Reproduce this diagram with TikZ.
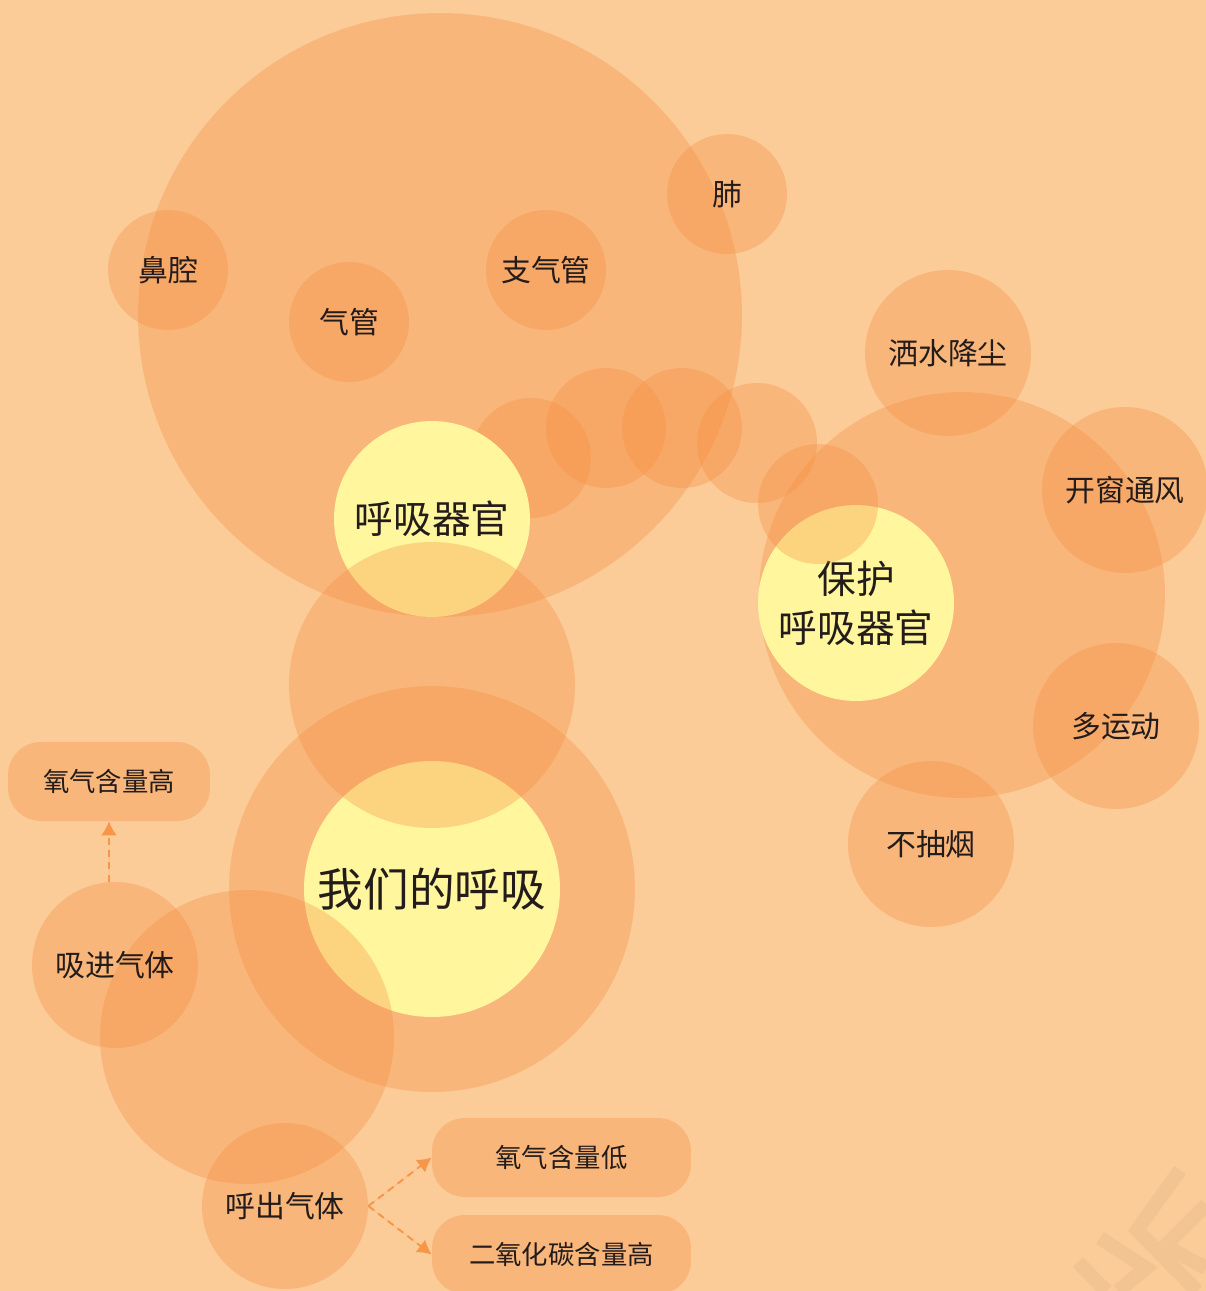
\documentclass[tikz,border=0pt]{standalone}
\usepackage{fontspec}
\newfontfamily\cjk{Noto Sans CJK SC}
\usetikzlibrary{arrows.meta}
\definecolor{paper}{RGB}{251,203,152}
\definecolor{peach}{RGB}{247,140,60}
\definecolor{lemon}{RGB}{255,246,158}
\definecolor{ink}{RGB}{35,28,26}
\definecolor{stamp}{RGB}{241,196,146}
\definecolor{flowc}{RGB}{247,150,72}
\tikzset{bubble/.style={circle,fill=peach,fill opacity=0.32,text opacity=1,text=ink,inner sep=0pt,font=\cjk\fontsize{17}{20}\selectfont}}
\tikzset{core/.style={circle,fill=lemon,text=ink,inner sep=0pt,align=center,font=\cjk\fontsize{22}{28}\selectfont}}
\tikzset{tag/.style={rectangle,rounded corners=0.66cm,fill=peach,fill opacity=0.32,text opacity=1,text=ink,minimum height=1.58cm,minimum width=5.18cm,font=\cjk\fontsize{15}{18}\selectfont}}
\tikzset{flow/.style={-{Latex[length=8pt,width=9pt]},draw=flowc,fill=flowc,line width=1.1pt,dash pattern=on 4pt off 3pt}}

\begin{document}
\begin{tikzpicture}[x=0.02cm,y=-0.02cm]
  \fill[paper] (0,0) rectangle (1206,1291);
  \useasboundingbox (0,0) rectangle (1206,1291);
  \draw[stamp,line width=8pt] (1180,1170) -- (1137,1230) -- (1197,1291);
  \draw[stamp,line width=8pt] (1100,1238) -- (1146,1268) -- (1118,1291);
  \draw[stamp,line width=8pt] (1078,1262) -- (1106,1291);
  \draw[stamp,line width=8pt] (1206,1205) -- (1166,1245) .. controls (1180,1255) and (1195,1262) .. (1206,1268);
  \node[bubble,minimum size=12.08cm] (organs-zone) at (440,315) {};
  \node[bubble,minimum size=2.4cm] (link1) at (531,458) {};
  \node[bubble,minimum size=8.12cm] (us-zone) at (432,889) {};
  \node[bubble,minimum size=8.12cm] (guard-zone) at (962,595) {};
  \node[core,minimum size=3.92cm] (organs) at (432,519) {呼吸器官};
  \node[core,minimum size=3.92cm] (guard) at (856,603) {保护\\呼吸器官};
  \node[core,minimum size=5.12cm,font=\cjk\fontsize{26}{30}\selectfont] (us) at (432,889) {我们的呼吸};
  \node[bubble,minimum size=5.72cm] (bridge) at (432,685) {};
  \node[bubble,minimum size=5.88cm] (air-zone) at (247,1037) {};
  \foreach \x/\y [count=\i from 2] in {606/428,682/428,757/443,818/504}
    \node[bubble,minimum size=2.4cm] (link\i) at (\x,\y) {};
  \node[bubble,minimum size=2.4cm] (nose) at (168,270) {鼻腔};
  \node[bubble,minimum size=2.4cm] (trachea) at (349,322) {气管};
  \node[bubble,minimum size=2.4cm] (bronchi) at (546,270) {支气管};
  \node[bubble,minimum size=2.4cm] (lung) at (727,194) {肺};
  \node[bubble,minimum size=3.32cm] (dust) at (948,353) {洒水降尘};
  \node[bubble,minimum size=3.32cm] (window) at (1125,490) {开窗通风};
  \node[bubble,minimum size=3.32cm] (sport) at (1116,726) {多运动};
  \node[bubble,minimum size=3.32cm] (nosmoke) at (931,844) {不抽烟};
  \node[bubble,minimum size=3.32cm] (inhale) at (115,965) {吸进气体};
  \node[bubble,minimum size=3.32cm] (exhale) at (285,1206) {呼出气体};
  \node[tag,minimum width=4.04cm] (o2high) at (109,781.5) {氧气含量高};
  \node[tag] (o2low) at (561.5,1157.5) {氧气含量低};
  \node[tag] (co2high) at (561.5,1254.5) {二氧化碳含量高};
  \draw[flow] (inhale.north -| o2high.south) -- (o2high.south);
  \draw[flow] (exhale.east) -- (o2low.west);
  \draw[flow] (exhale.east) -- (co2high.west);
\end{tikzpicture}
\end{document}
